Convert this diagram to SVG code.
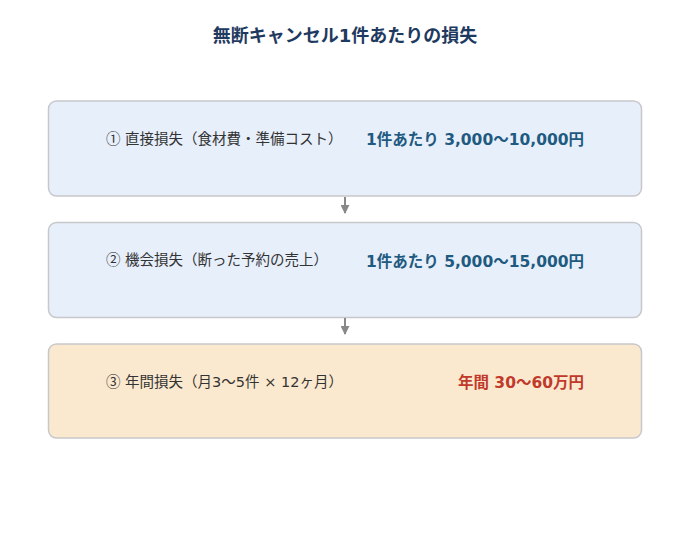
<svg xmlns="http://www.w3.org/2000/svg" width="690" height="540" viewBox="0 0 690 540">
<defs>
<style>
.t{font-family:"DejaVu Sans","Noto Sans CJK JP",sans-serif;}
.c{font-family:"Noto Sans CJK JP",sans-serif;}
.title{font-size:18px;font-weight:bold;fill:#1f3a5f;}
.lbl{font-size:14.5px;fill:#333333;}
.val{font-size:15.5px;font-weight:bold;fill:#1f5a80;text-anchor:end;}
.valr{font-size:15.5px;font-weight:bold;fill:#c0392b;text-anchor:end;}
.box{fill:#e7effb;stroke:#c8c8cc;stroke-width:1.5;}
.boxw{fill:#fbe9cf;stroke:#c8c8cc;stroke-width:1.5;}
.conn{stroke:#888888;stroke-width:2;fill:none;}
</style>
<marker id="ah" viewBox="0 0 10 10" refX="9" refY="5" markerWidth="4.5" markerHeight="4.5" orient="auto" markerUnits="strokeWidth">
<path d="M0,0 L10,5 L0,10 z" fill="#888888"/>
</marker>
</defs>
<rect width="690" height="540" fill="#ffffff"/>
<text class="t title" x="345" y="42" text-anchor="middle">無断キャンセル1件あたりの損失</text>
<g id="node1">
<rect class="box" x="48.5" y="101" width="593" height="95" rx="8"/>
<text class="t lbl" x="106" y="144"><tspan class="c">①</tspan> 直接損失（食材費・準備コスト）</text>
<text class="t val" x="584" y="145">1件あたり 3,000〜10,000円</text>
</g>
<g id="node2">
<rect class="box" x="48.5" y="222.5" width="593" height="95" rx="8"/>
<text class="t lbl" x="106" y="265"><tspan class="c">②</tspan> 機会損失（断った予約の売上）</text>
<text class="t val" x="584" y="267">1件あたり 5,000〜15,000円</text>
</g>
<g id="node3">
<rect class="boxw" x="48.5" y="344" width="593" height="94" rx="8"/>
<text class="t lbl" x="106" y="387"><tspan class="c">③</tspan> 年間損失（月3〜5件 × 12ヶ月）</text>
<text class="t valr" x="584" y="388">年間 30〜60万円</text>
</g>
<g id="connectors">
<line class="conn" x1="345" y1="197" x2="345" y2="213" marker-end="url(#ah)"/>
<line class="conn" x1="345" y1="318" x2="345" y2="334" marker-end="url(#ah)"/>
</g>
</svg>
